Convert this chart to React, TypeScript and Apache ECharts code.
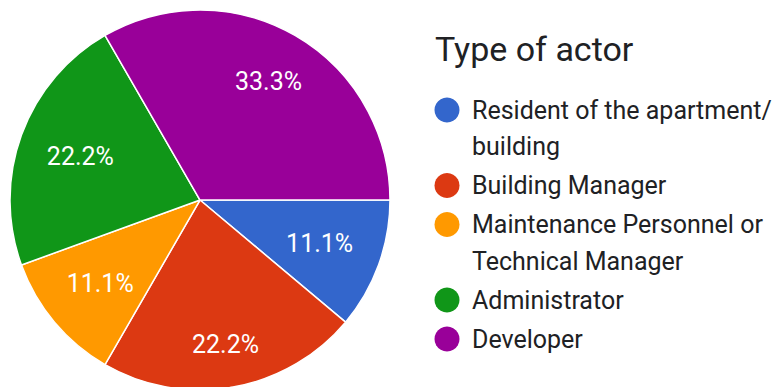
import React, { useEffect, useRef } from "react";
import * as echarts from "echarts";

// Legend labels (line breaks mark where the legend wraps them)
const actorTypes: string[] = [
  "Resident of the apartment/\nbuilding",
  "Building Manager",
  "Maintenance Personnel or\nTechnical Manager",
  "Administrator",
  "Developer",
];

// Number of responses per actor type
const responses: number[] = [1, 2, 1, 2, 3];

const sliceColors: string[] = ["#3366cc", "#dc3912", "#ff9900", "#109618", "#990099"];

const chartTitle = "Type of actor";

const FONT = "Roboto, 'Liberation Sans', Arial, sans-serif";
const CX = 200;
const CY = 200;
const R = 190;
const LABEL_SIZE = 25;

export default function App() {
  const ref = useRef<HTMLDivElement>(null);

  useEffect(() => {
    if (!ref.current) return;
    const chart = echarts.init(ref.current, undefined, { renderer: "svg" });

    const names = actorTypes.map((s) => s.replace("\n", ""));
    const data = names.map((name, i) => ({
      name,
      value: responses[i],
      itemStyle: { color: sliceColors[i] },
    }));

    // mid angle of every slice (degrees, clockwise from 3 o'clock)
    const total = responses.reduce((a, b) => a + b, 0);
    const midAngles: number[] = [];
    let acc = 0;
    responses.forEach((v) => {
      midAngles.push(((acc + v / 2) / total) * 360);
      acc += v;
    });

    // Legend built as graphic elements so wrapped labels keep the icon on the first line
    const lineH = 36.5;
    const itemGap = 2.5;
    const legendTop = 110;
    const legendEls: any[] = [];
    let y = legendTop;
    actorTypes.forEach((label, i) => {
      const lines = label.split("\n").length;
      legendEls.push({
        type: "circle",
        shape: { cx: 447, cy: y, r: 12.5 },
        style: { fill: sliceColors[i] },
        silent: true,
      });
      legendEls.push({
        type: "text",
        x: 472,
        y: y - lineH / 2,
        style: {
          text: label,
          fill: "#202124",
          font: `25px ${FONT}`,
          lineHeight: lineH,
          verticalAlign: "top",
          align: "left",
        },
        silent: true,
      });
      y += lines * lineH + itemGap;
    });

    chart.setOption({
      animation: false,
      backgroundColor: "#ffffff",
      graphic: [
        {
          type: "text",
          x: 435,
          y: 49,
          style: {
            text: chartTitle,
            fill: "#202124",
            font: `34px ${FONT}`,
            verticalAlign: "middle",
            align: "left",
          },
          silent: true,
        },
        ...legendEls,
      ],
      series: [
        {
          type: "pie",
          center: [CX, CY],
          radius: [0, R],
          startAngle: 0,
          clockwise: true,
          avoidLabelOverlap: false,
          silent: true,
          itemStyle: { borderColor: "#ffffff", borderWidth: 1.5 },
          label: {
            show: true,
            position: "inside",
            color: "#ffffff",
            fontFamily: FONT,
            fontSize: LABEL_SIZE,
            formatter: (p: any) => `${p.percent.toFixed(1)}%`,
          },
          labelLine: { show: false },
          // keep each label's outer edge a fixed distance inside the rim
          labelLayout: (params: any) => {
            const a = (midAngles[params.dataIndex] * Math.PI) / 180;
            const c = Math.cos(a);
            const s = Math.sin(a);
            const hw = params.labelRect.width / 2;
            const hh = LABEL_SIZE * 0.38;
            const extent = hw * Math.abs(c) + hh * Math.abs(s);
            const d = R * 0.853 - extent;
            return {
              x: CX + d * c,
              y: CY + d * s,
              align: "center",
              verticalAlign: "middle",
            };
          },
          data,
        },
      ],
    });

    return () => chart.dispose();
  }, []);

  return (
    <div
      ref={ref}
      style={{ position: "fixed", left: 0, top: 0, width: 774, height: 387 }}
    />
  );
}
